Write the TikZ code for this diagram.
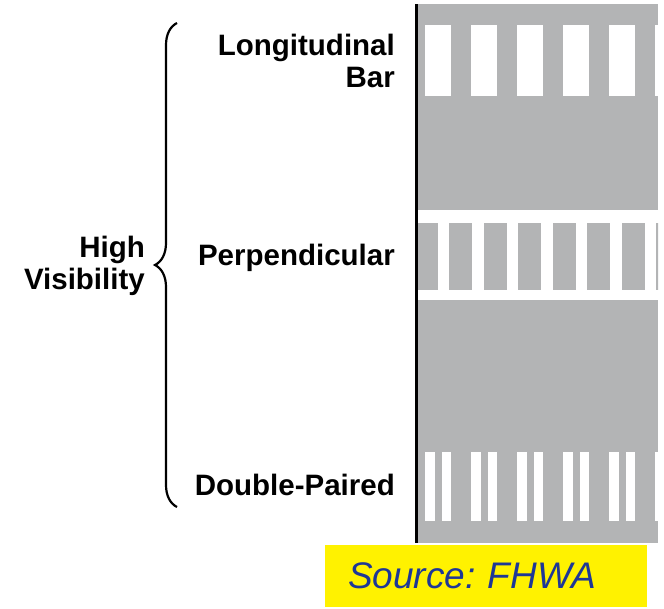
\documentclass[tikz,border=0pt]{standalone}
\usepackage{fontspec}
\setmainfont{Liberation Sans}
\usetikzlibrary{positioning,decorations.pathreplacing}
\definecolor{roadgray}{RGB}{179,180,181}
\definecolor{srcblue}{RGB}{30,55,150}
\frenchspacing

\begin{document}
\begin{tikzpicture}[x=1pt,y=-1pt,
  lbl/.style={font=\fontsize{29.5}{32}\selectfont\bfseries,inner sep=0pt,align=right},
  bar/.style={fill=white},
  gap/.style={fill=roadgray},
  srcbox/.style={fill=yellow,text=srcblue,inner xsep=23pt,inner ysep=0pt,
    text width=276pt,align=left,minimum height=62pt,
    font=\fontsize{37}{44}\selectfont\itshape}]
\useasboundingbox (0,0) rectangle (664,608);
% road
\fill[roadgray] (418,4) rectangle (658,543);
\begin{scope}
  \clip (418,4) rectangle (658,543);
  % longitudinal bars
  \foreach \i in {0,...,5}
    \fill[bar] ({425+46*\i},25) rectangle +(26,71);
  % perpendicular
  \fill[bar] (418,210) rectangle (658,300);
  \foreach \i in {0,...,7}
    \fill[gap] ({414.5+34.5*\i},223) rectangle +(23,67);
  % double-paired
  \foreach \i in {0,...,5}{
    \fill[bar] ({425+46*\i},452) rectangle +(9.5,69);
    \fill[bar] ({441.5+46*\i},452) rectangle +(9.5,69);}
\end{scope}
\draw[line width=3.5pt] (416.5,4) -- (416.5,543);

% labels
\node[lbl,anchor=base east] (longbar) at (395,87) {Longitudinal\\Bar};
\node[lbl,anchor=base east] (perp) at (395,265) {Perpendicular};
\node[lbl,anchor=base east] (dbl) at (395,495) {Double-Paired};
\node[lbl,anchor=base east] (highvis) at (145,289) {High\\Visibility};

% brace
\coordinate (bbot) at (177,507);
\coordinate (btop) at (177,23);
\draw[line width=2.2pt,decorate,decoration={brace,amplitude=22pt}] (bbot) -- (btop);

\node[srcbox] (src) at (486,576) {Source: FHWA};
\end{tikzpicture}
\end{document}
